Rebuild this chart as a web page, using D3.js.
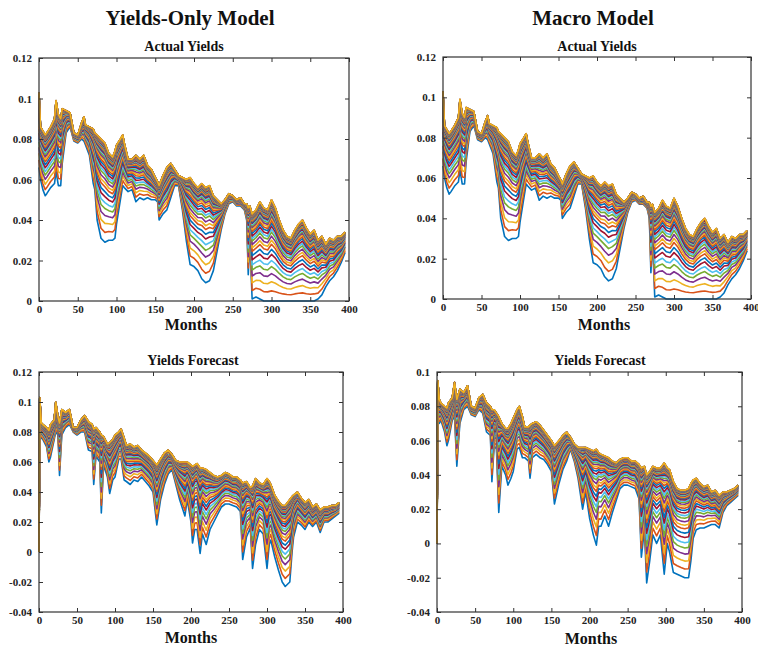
<!DOCTYPE html>
<html>
<head>
  <meta charset="utf-8">
  <title>Yields-Only vs Macro Model</title>
  <style>
    body { margin: 0; background: #fff; }
    text { font-family: "Liberation Serif", "Times New Roman", serif; font-weight: bold; fill: #111; }
    .axis path { display: none; }
    .axis line { stroke: #333; }
    .axis text { font-size: 11px; fill: #222; }
    .frame { fill: none; stroke: #333; stroke-width: 1.2px; }
    .yl { fill: none; stroke-width: 1.6px; stroke-linejoin: round; }
  </style>
</head>
<body>
  <svg width="758" height="650"></svg>
  <script src="https://d3js.org/d3.v7.min.js"></script>
  <script>
    // ---- data ----
    // each panel: a short-end curve (bottom, blue) and a long-end curve (top)
    // the maturities in between sit at fixed relative positions (maturityLoad)

    // actual yields (same in both top panels)
    const monthsA = [0,2,5,8,10,15,20,22,25,28,
      30,35,40,45,50,55,58,60,65,70,
      72,75,80,85,90,95,98,100,105,108,
      110,115,120,125,130,135,140,145,150,153,
      155,160,165,170,175,180,185,190,195,200,
      205,210,215,220,225,230,235,240,245,250,
      255,260,265,268,270,272,275,280,285,290,
      295,300,305,310,315,320,325,330,335,340,
      345,350,355,360,365,370,375,380,385,390,
      395];
    const shortA = [0.066,0.060,0.055,0.052,0.053,0.056,0.058,0.064,0.057,0.057,
      0.068,0.083,0.086,0.079,0.078,0.080,0.079,0.077,0.072,0.058,
      0.055,0.040,0.031,0.029,0.030,0.030,0.031,0.038,0.050,0.057,
      0.056,0.054,0.055,0.049,0.051,0.050,0.051,0.050,0.050,0.049,
      0.040,0.043,0.045,0.051,0.057,0.057,0.045,0.030,0.018,0.017,
      0.015,0.011,0.009,0.010,0.015,0.025,0.035,0.043,0.048,0.049,
      0.047,0.047,0.045,0.040,0.013,0.030,0.001,0.002,0.001,0.000,
      0.000,0.000,0.000,0.000,0.000,0.000,0.000,0.000,0.000,0.000,
      0.000,0.000,0.000,0.001,0.003,0.007,0.010,0.012,0.015,0.019,
      0.024];
    const longA = [0.103,0.086,0.084,0.082,0.083,0.086,0.090,0.099,0.092,0.090,
      0.095,0.094,0.093,0.083,0.082,0.088,0.091,0.087,0.086,0.085,
      0.083,0.082,0.080,0.078,0.073,0.071,0.074,0.077,0.080,0.082,
      0.078,0.070,0.070,0.072,0.070,0.072,0.067,0.065,0.061,0.059,
      0.057,0.062,0.066,0.068,0.065,0.062,0.061,0.060,0.061,0.058,
      0.056,0.058,0.056,0.057,0.052,0.050,0.048,0.050,0.053,0.052,
      0.050,0.051,0.048,0.048,0.046,0.047,0.043,0.045,0.049,0.046,
      0.045,0.050,0.046,0.040,0.035,0.032,0.031,0.035,0.038,0.040,
      0.036,0.033,0.035,0.030,0.032,0.028,0.031,0.030,0.032,0.032,
      0.034];

    // yields-only forecast
    const monthsF1 = [0,1,3,5,10,13,15,20,22,25,
      27,30,35,40,45,50,55,60,65,70,
      72,75,80,82,85,90,93,97,100,105,
      108,112,115,120,125,130,135,140,145,150,
      155,160,165,170,175,180,185,192,195,200,
      202,205,208,212,215,220,225,230,235,240,
      245,250,255,260,265,268,273,278,281,285,
      290,295,300,303,305,310,315,320,324,330,
      333,335,340,345,350,355,360,365,370,375,
      380,385,390,395];
    const shortF1 = [0.000,0.080,0.076,0.075,0.070,0.060,0.063,0.075,0.080,0.078,
      0.051,0.078,0.083,0.085,0.080,0.078,0.080,0.080,0.068,0.067,
      0.045,0.064,0.060,0.026,0.058,0.050,0.039,0.048,0.050,0.062,
      0.062,0.048,0.047,0.045,0.048,0.047,0.050,0.047,0.044,0.040,
      0.018,0.035,0.045,0.052,0.055,0.045,0.035,0.024,0.035,0.020,
      0.006,0.015,0.015,-0.001,0.012,0.005,0.015,0.020,0.025,0.030,
      0.032,0.032,0.031,0.030,0.027,-0.005,0.010,0.016,-0.011,0.005,
      0.015,0.012,-0.011,0.005,0.008,-0.003,-0.012,-0.020,-0.023,-0.020,
      0.000,0.010,0.020,0.018,0.015,0.020,0.017,0.020,0.013,0.020,
      0.020,0.022,0.024,0.026];
    const longF1 = [0.000,0.103,0.086,0.085,0.083,0.081,0.085,0.088,0.100,0.090,
      0.086,0.095,0.093,0.095,0.083,0.083,0.088,0.091,0.087,0.085,
      0.082,0.083,0.080,0.078,0.077,0.072,0.073,0.075,0.078,0.080,
      0.082,0.076,0.071,0.072,0.070,0.071,0.068,0.066,0.064,0.061,
      0.058,0.062,0.066,0.068,0.065,0.061,0.060,0.060,0.060,0.058,
      0.057,0.058,0.059,0.056,0.056,0.055,0.053,0.051,0.050,0.051,
      0.053,0.052,0.050,0.050,0.048,0.046,0.047,0.043,0.044,0.049,
      0.046,0.045,0.049,0.047,0.045,0.038,0.034,0.031,0.031,0.035,
      0.037,0.038,0.040,0.036,0.033,0.035,0.030,0.032,0.028,0.030,
      0.030,0.031,0.031,0.033];

    // macro model forecast
    const monthsF2 = [0,1,3,5,10,13,15,20,23,26,
      30,35,40,45,50,55,60,65,70,72,
      75,78,81,85,90,93,97,100,105,108,
      112,115,120,122,125,130,135,140,145,150,
      154,160,165,170,175,180,185,191,195,200,
      205,209,212,215,220,225,230,235,240,245,
      250,255,260,265,268,272,275,279,283,288,
      293,298,302,305,310,315,320,325,330,333,
      336,340,345,350,355,360,365,370,375,380,
      385,390,395];
    const shortF2 = [0.000,0.070,0.070,0.072,0.065,0.057,0.060,0.072,0.074,0.045,
      0.070,0.078,0.080,0.075,0.074,0.078,0.076,0.065,0.063,0.036,
      0.057,0.055,0.018,0.045,0.040,0.034,0.038,0.042,0.055,0.056,
      0.050,0.050,0.048,0.038,0.050,0.052,0.050,0.049,0.046,0.042,
      0.023,0.035,0.043,0.048,0.055,0.048,0.038,0.020,0.030,0.015,
      0.005,-0.001,0.010,0.010,0.016,0.010,0.018,0.025,0.032,0.034,
      0.034,0.033,0.032,0.026,-0.008,0.008,-0.023,-0.010,0.005,0.000,
      0.005,-0.018,0.000,-0.005,-0.017,-0.018,-0.019,-0.020,-0.020,-0.010,
      0.003,0.008,0.009,0.009,0.010,0.011,0.011,0.009,0.018,0.022,
      0.024,0.026,0.028];
    const longF2 = [0.000,0.095,0.084,0.082,0.080,0.079,0.082,0.085,0.094,0.084,
      0.090,0.088,0.092,0.080,0.079,0.085,0.087,0.082,0.080,0.078,
      0.078,0.076,0.074,0.070,0.067,0.067,0.070,0.073,0.078,0.080,
      0.074,0.068,0.068,0.069,0.070,0.071,0.069,0.066,0.063,0.060,
      0.057,0.060,0.063,0.065,0.062,0.058,0.056,0.056,0.056,0.055,
      0.054,0.055,0.053,0.052,0.051,0.050,0.048,0.047,0.049,0.050,
      0.050,0.048,0.048,0.046,0.044,0.045,0.040,0.042,0.045,0.044,
      0.044,0.047,0.044,0.043,0.036,0.032,0.031,0.031,0.032,0.035,
      0.037,0.038,0.035,0.033,0.034,0.030,0.031,0.028,0.030,0.030,
      0.031,0.032,0.034];

    // relative position of each maturity between the short end (1) and long end (0)
    const maturityLoad = [1.00,0.90,0.81,0.73,0.66,0.60,0.54,0.49,0.44,0.40,
      0.36,0.32,0.29,0.26,0.23,0.205,0.18,0.16,0.14,0.125,
      0.11,0.097,0.086,0.076,0.067,0.059,0.052,0.046,0.040,0.035,
      0.030,0.026,0.022,0.019,0.016,0.013,0.011,0.009,0.007,0.005,
      0.004,0.003,0.002,0.001,0.0];

    const xTicks = [0,50,100,150,200,250,300,350,400];
    const yTicksTop = [0,0.02,0.04,0.06,0.08,0.1,0.12];
    const yTicksF1 = [-0.04,-0.02,0,0.02,0.04,0.06,0.08,0.1,0.12];
    const yTicksF2 = [-0.04,-0.02,0,0.02,0.04,0.06,0.08,0.1];

    // MATLAB default line colours
    const colors = ["#0072BD","#D95319","#EDB120","#7E2F8E","#77AC30","#4DBEEE","#A2142F"];

    const svg = d3.select("svg");

    // column headers
    svg.append("text").attr("x", 190).attr("y", 25).attr("text-anchor", "middle")
       .style("font-size", "21px").text("Yields-Only Model");
    svg.append("text").attr("x", 593).attr("y", 25).attr("text-anchor", "middle")
       .style("font-size", "21px").text("Macro Model");

    const panels = [
      {title: "Actual Yields", months: monthsA, short: shortA, long: longA,
       left: 39, right: 349, top: 58, bottom: 301, yDom: [0, 0.12], yTicks: yTicksTop,
       titleX: 184, titleY: 51, labelX: 191, labelY: 330},
      {title: "Actual Yields", months: monthsA, short: shortA, long: longA,
       left: 443, right: 751, top: 57, bottom: 299, yDom: [0, 0.12], yTicks: yTicksTop,
       titleX: 597, titleY: 51, labelX: 604, labelY: 330},
      {title: "Yields Forecast", months: monthsF1, short: shortF1, long: longF1,
       left: 39, right: 343, top: 372, bottom: 612, yDom: [-0.04, 0.12], yTicks: yTicksF1,
       titleX: 193, titleY: 365, labelX: 191, labelY: 643},
      {title: "Yields Forecast", months: monthsF2, short: shortF2, long: longF2,
       left: 437, right: 742, top: 372, bottom: 612, yDom: [-0.04, 0.1], yTicks: yTicksF2,
       titleX: 600, titleY: 365, labelX: 591, labelY: 644}
    ];

    panels.forEach(function(p) {
      const x = d3.scaleLinear().domain([0, 400]).range([p.left, p.right]);
      const y = d3.scaleLinear().domain(p.yDom).range([p.bottom, p.top]);
      const g = svg.append("g");

      // one curve per maturity: level (long end) + slope (short - long) * loading
      const curves = maturityLoad.map(function(w) {
        return p.months.map(function(m, i) {
          return [m, p.long[i] + (p.short[i] - p.long[i]) * w];
        });
      });

      const line = d3.line().x(d => x(d[0])).y(d => y(d[1]));

      g.append("g").selectAll("path")
        .data(curves)
        .enter().append("path")
        .attr("class", "yl")
        .attr("stroke", (d, i) => colors[i % colors.length])
        .attr("d", line);

      // axes, ticks pointing inward on all four sides
      g.append("g").attr("class", "axis")
        .attr("transform", "translate(0," + p.bottom + ")")
        .call(d3.axisBottom(x).tickValues(xTicks).tickSize(-4).tickPadding(4).tickFormat(d3.format("d")));
      g.append("g").attr("class", "axis")
        .attr("transform", "translate(0," + p.top + ")")
        .call(d3.axisTop(x).tickValues(xTicks).tickSize(-4).tickFormat(""));
      g.append("g").attr("class", "axis")
        .attr("transform", "translate(" + p.left + ",0)")
        .call(d3.axisLeft(y).tickValues(p.yTicks).tickSize(-4).tickPadding(7).tickFormat(d => String(d)));
      g.append("g").attr("class", "axis")
        .attr("transform", "translate(" + p.right + ",0)")
        .call(d3.axisRight(y).tickValues(p.yTicks).tickSize(-4).tickFormat(""));

      g.append("rect").attr("class", "frame")
        .attr("x", p.left).attr("y", p.top)
        .attr("width", p.right - p.left).attr("height", p.bottom - p.top);

      g.append("text").attr("x", p.titleX).attr("y", p.titleY).attr("text-anchor", "middle")
        .style("font-size", "14px").text(p.title);
      g.append("text").attr("x", p.labelX).attr("y", p.labelY).attr("text-anchor", "middle")
        .style("font-size", "16px").text("Months");
    });
  </script>
</body>
</html>
